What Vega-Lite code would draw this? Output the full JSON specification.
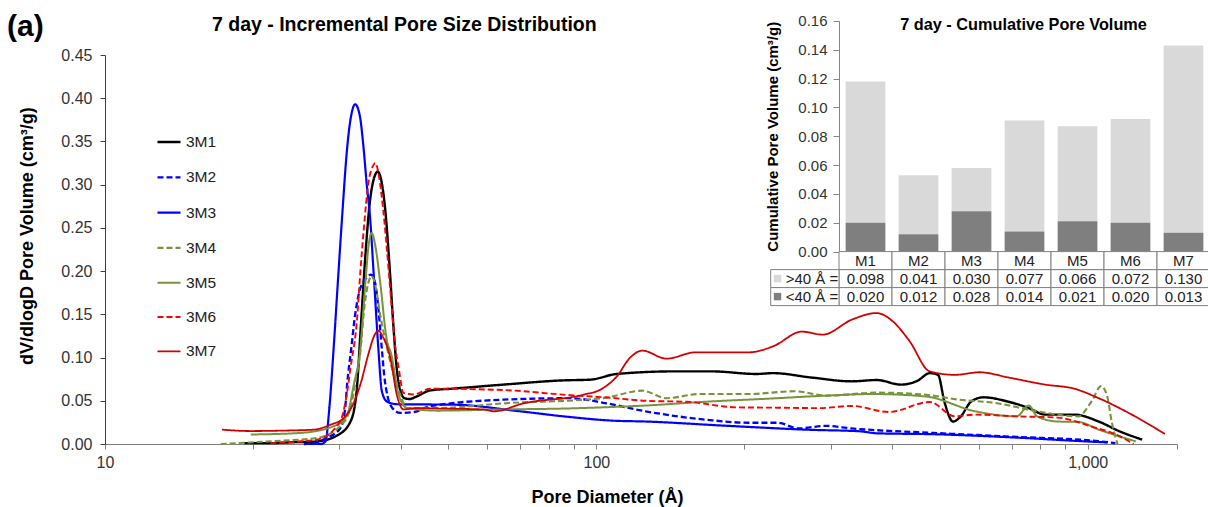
{
  "$schema": "https://vega.github.io/schema/vega-lite/v6.json",
  "background": "white",
  "padding": {"left": 7, "top": 11, "right": 0, "bottom": 4},
  "title": {"text": "(a)", "anchor": "start", "frame": "group", "fontSize": 30, "fontWeight": "bold", "color": "#000000", "dx": -98, "dy": 31.6},
  "config": {
    "font": "Liberation Sans",
    "view": {"stroke": null},
    "axis": {"grid": false},
    "concat": {"spacing": 0}
  },
  "datasets": {
    "pores": [
      {"series": "3M1", "d": 19.2, "v": 0.001}, {"series": "3M1", "d": 21.7, "v": 0.001}, {"series": "3M1", "d": 24.0, "v": 0.002},
      {"series": "3M1", "d": 27.0, "v": 0.003}, {"series": "3M1", "d": 29.7, "v": 0.010}, {"series": "3M1", "d": 31.6, "v": 0.026},
      {"series": "3M1", "d": 32.5, "v": 0.060}, {"series": "3M1", "d": 33.2, "v": 0.14}, {"series": "3M1", "d": 33.9, "v": 0.22},
      {"series": "3M1", "d": 34.6, "v": 0.28}, {"series": "3M1", "d": 35.3, "v": 0.308}, {"series": "3M1", "d": 35.9, "v": 0.315},
      {"series": "3M1", "d": 36.5, "v": 0.305}, {"series": "3M1", "d": 37.2, "v": 0.27}, {"series": "3M1", "d": 37.9, "v": 0.21},
      {"series": "3M1", "d": 38.6, "v": 0.14}, {"series": "3M1", "d": 39.2, "v": 0.09}, {"series": "3M1", "d": 39.9, "v": 0.062},
      {"series": "3M1", "d": 40.7, "v": 0.053}, {"series": "3M1", "d": 41.6, "v": 0.052}, {"series": "3M1", "d": 43.1, "v": 0.055},
      {"series": "3M1", "d": 45.9, "v": 0.062}, {"series": "3M1", "d": 51, "v": 0.064}, {"series": "3M1", "d": 64.7, "v": 0.0687},
      {"series": "3M1", "d": 85.7, "v": 0.0736}, {"series": "3M1", "d": 97.1, "v": 0.0744}, {"series": "3M1", "d": 110, "v": 0.081},
      {"series": "3M1", "d": 144, "v": 0.084}, {"series": "3M1", "d": 172, "v": 0.084}, {"series": "3M1", "d": 212, "v": 0.081},
      {"series": "3M1", "d": 229, "v": 0.082}, {"series": "3M1", "d": 273, "v": 0.077}, {"series": "3M1", "d": 331, "v": 0.0725},
      {"series": "3M1", "d": 372, "v": 0.074}, {"series": "3M1", "d": 417, "v": 0.0687}, {"series": "3M1", "d": 451, "v": 0.0733},
      {"series": "3M1", "d": 477, "v": 0.082}, {"series": "3M1", "d": 496, "v": 0.080}, {"series": "3M1", "d": 511, "v": 0.049},
      {"series": "3M1", "d": 532, "v": 0.026}, {"series": "3M1", "d": 552, "v": 0.032}, {"series": "3M1", "d": 579, "v": 0.049},
      {"series": "3M1", "d": 614, "v": 0.054}, {"series": "3M1", "d": 689, "v": 0.049}, {"series": "3M1", "d": 759, "v": 0.0416},
      {"series": "3M1", "d": 820, "v": 0.034}, {"series": "3M1", "d": 939, "v": 0.034}, {"series": "3M1", "d": 1053, "v": 0.026},
      {"series": "3M1", "d": 1161, "v": 0.0147}, {"series": "3M1", "d": 1291, "v": 0.005},

      {"series": "3M2", "d": 25.4, "v": 0.0}, {"series": "3M2", "d": 27.0, "v": 0.002}, {"series": "3M2", "d": 28.0, "v": 0.006},
      {"series": "3M2", "d": 30.1, "v": 0.018}, {"series": "3M2", "d": 30.8, "v": 0.04}, {"series": "3M2", "d": 31.1, "v": 0.069},
      {"series": "3M2", "d": 31.7, "v": 0.11}, {"series": "3M2", "d": 32.3, "v": 0.15}, {"series": "3M2", "d": 33.0, "v": 0.178},
      {"series": "3M2", "d": 33.8, "v": 0.19}, {"series": "3M2", "d": 34.8, "v": 0.196}, {"series": "3M2", "d": 35.5, "v": 0.185},
      {"series": "3M2", "d": 36.1, "v": 0.15}, {"series": "3M2", "d": 36.6, "v": 0.11}, {"series": "3M2", "d": 37.0, "v": 0.08},
      {"series": "3M2", "d": 37.6, "v": 0.055}, {"series": "3M2", "d": 38.4, "v": 0.042}, {"series": "3M2", "d": 39.9, "v": 0.036},
      {"series": "3M2", "d": 42.5, "v": 0.037}, {"series": "3M2", "d": 45.9, "v": 0.0436}, {"series": "3M2", "d": 64.7, "v": 0.0513},
      {"series": "3M2", "d": 88.4, "v": 0.053}, {"series": "3M2", "d": 104, "v": 0.0474}, {"series": "3M2", "d": 126, "v": 0.0378},
      {"series": "3M2", "d": 168, "v": 0.028}, {"series": "3M2", "d": 204, "v": 0.0246}, {"series": "3M2", "d": 234, "v": 0.0246},
      {"series": "3M2", "d": 258, "v": 0.018}, {"series": "3M2", "d": 293, "v": 0.021}, {"series": "3M2", "d": 331, "v": 0.018},
      {"series": "3M2", "d": 486, "v": 0.0128}, {"series": "3M2", "d": 717, "v": 0.0082}, {"series": "3M2", "d": 1053, "v": 0.0032},
      {"series": "3M2", "d": 1139, "v": 0.001},

      {"series": "3M3", "d": 25.4, "v": 0.0}, {"series": "3M3", "d": 27.5, "v": 0.0}, {"series": "3M3", "d": 28.1, "v": 0.003},
      {"series": "3M3", "d": 28.6, "v": 0.04}, {"series": "3M3", "d": 29.2, "v": 0.111}, {"series": "3M3", "d": 29.8, "v": 0.19},
      {"series": "3M3", "d": 30.4, "v": 0.265}, {"series": "3M3", "d": 31.1, "v": 0.342}, {"series": "3M3", "d": 31.7, "v": 0.38},
      {"series": "3M3", "d": 32.3, "v": 0.393}, {"series": "3M3", "d": 33.0, "v": 0.38}, {"series": "3M3", "d": 33.6, "v": 0.342},
      {"series": "3M3", "d": 34.1, "v": 0.30}, {"series": "3M3", "d": 34.6, "v": 0.265}, {"series": "3M3", "d": 35.3, "v": 0.188},
      {"series": "3M3", "d": 36.0, "v": 0.111}, {"series": "3M3", "d": 36.6, "v": 0.061}, {"series": "3M3", "d": 37.5, "v": 0.049},
      {"series": "3M3", "d": 39.3, "v": 0.046}, {"series": "3M3", "d": 51.2, "v": 0.0455}, {"series": "3M3", "d": 70, "v": 0.0378},
      {"series": "3M3", "d": 85.7, "v": 0.032}, {"series": "3M3", "d": 108, "v": 0.027}, {"series": "3M3", "d": 126, "v": 0.026},
      {"series": "3M3", "d": 185, "v": 0.021}, {"series": "3M3", "d": 273, "v": 0.0164}, {"series": "3M3", "d": 344, "v": 0.0147},
      {"series": "3M3", "d": 372, "v": 0.0124}, {"series": "3M3", "d": 486, "v": 0.0113}, {"series": "3M3", "d": 717, "v": 0.0074},
      {"series": "3M3", "d": 977, "v": 0.0032}, {"series": "3M3", "d": 1096, "v": 0.0018},

      {"series": "3M4", "d": 17.2, "v": 0.0}, {"series": "3M4", "d": 20, "v": 0.002}, {"series": "3M4", "d": 23.1, "v": 0.004},
      {"series": "3M4", "d": 27.0, "v": 0.007}, {"series": "3M4", "d": 30.1, "v": 0.0205}, {"series": "3M4", "d": 31.6, "v": 0.042},
      {"series": "3M4", "d": 32.4, "v": 0.075}, {"series": "3M4", "d": 33.1, "v": 0.107}, {"series": "3M4", "d": 33.6, "v": 0.15},
      {"series": "3M4", "d": 34.3, "v": 0.185}, {"series": "3M4", "d": 34.9, "v": 0.194}, {"series": "3M4", "d": 35.6, "v": 0.18},
      {"series": "3M4", "d": 36.3, "v": 0.15}, {"series": "3M4", "d": 37.5, "v": 0.111}, {"series": "3M4", "d": 38.7, "v": 0.08},
      {"series": "3M4", "d": 39.9, "v": 0.057}, {"series": "3M4", "d": 41.2, "v": 0.0416}, {"series": "3M4", "d": 47.4, "v": 0.0416},
      {"series": "3M4", "d": 64.7, "v": 0.047}, {"series": "3M4", "d": 103, "v": 0.053}, {"series": "3M4", "d": 124, "v": 0.0617},
      {"series": "3M4", "d": 139, "v": 0.053}, {"series": "3M4", "d": 162, "v": 0.0578}, {"series": "3M4", "d": 204, "v": 0.0578},
      {"series": "3M4", "d": 253, "v": 0.061}, {"series": "3M4", "d": 295, "v": 0.056}, {"series": "3M4", "d": 372, "v": 0.0594},
      {"series": "3M4", "d": 468, "v": 0.057}, {"series": "3M4", "d": 547, "v": 0.0513}, {"series": "3M4", "d": 650, "v": 0.0474},
      {"series": "3M4", "d": 789, "v": 0.0378}, {"series": "3M4", "d": 957, "v": 0.032}, {"series": "3M4", "d": 1020, "v": 0.05},
      {"series": "3M4", "d": 1065, "v": 0.067}, {"series": "3M4", "d": 1095, "v": 0.056}, {"series": "3M4", "d": 1120, "v": 0.025},
      {"series": "3M4", "d": 1150, "v": 0.0},

      {"series": "3M5", "d": 19.8, "v": 0.011}, {"series": "3M5", "d": 25.0, "v": 0.0128}, {"series": "3M5", "d": 29.7, "v": 0.0224},
      {"series": "3M5", "d": 31.1, "v": 0.034}, {"series": "3M5", "d": 32.1, "v": 0.069}, {"series": "3M5", "d": 33.1, "v": 0.111},
      {"series": "3M5", "d": 33.9, "v": 0.188}, {"series": "3M5", "d": 34.4, "v": 0.23}, {"series": "3M5", "d": 34.9, "v": 0.244},
      {"series": "3M5", "d": 35.6, "v": 0.225}, {"series": "3M5", "d": 36.3, "v": 0.188}, {"series": "3M5", "d": 37.5, "v": 0.119},
      {"series": "3M5", "d": 38.2, "v": 0.105}, {"series": "3M5", "d": 39.6, "v": 0.057}, {"series": "3M5", "d": 41.2, "v": 0.0416},
      {"series": "3M5", "d": 47.4, "v": 0.0386}, {"series": "3M5", "d": 64.7, "v": 0.040}, {"series": "3M5", "d": 85.7, "v": 0.041},
      {"series": "3M5", "d": 103, "v": 0.0424}, {"series": "3M5", "d": 126, "v": 0.0445}, {"series": "3M5", "d": 168, "v": 0.049},
      {"series": "3M5", "d": 225, "v": 0.0525}, {"series": "3M5", "d": 295, "v": 0.056}, {"series": "3M5", "d": 365, "v": 0.0578},
      {"series": "3M5", "d": 468, "v": 0.055}, {"series": "3M5", "d": 591, "v": 0.0378}, {"series": "3M5", "d": 717, "v": 0.032},
      {"series": "3M5", "d": 759, "v": 0.0445}, {"series": "3M5", "d": 789, "v": 0.032}, {"series": "3M5", "d": 869, "v": 0.026},
      {"series": "3M5", "d": 957, "v": 0.0255}, {"series": "3M5", "d": 1053, "v": 0.0167}, {"series": "3M5", "d": 1254, "v": 0.003},

      {"series": "3M6", "d": 21.7, "v": 0.001}, {"series": "3M6", "d": 27.0, "v": 0.005}, {"series": "3M6", "d": 30.1, "v": 0.026},
      {"series": "3M6", "d": 31.0, "v": 0.055}, {"series": "3M6", "d": 31.6, "v": 0.088}, {"series": "3M6", "d": 32.6, "v": 0.146},
      {"series": "3M6", "d": 33.1, "v": 0.2}, {"series": "3M6", "d": 33.6, "v": 0.246}, {"series": "3M6", "d": 34.4, "v": 0.304},
      {"series": "3M6", "d": 35.0, "v": 0.32}, {"series": "3M6", "d": 35.5, "v": 0.325}, {"series": "3M6", "d": 36.1, "v": 0.31},
      {"series": "3M6", "d": 36.8, "v": 0.273}, {"series": "3M6", "d": 37.95, "v": 0.188}, {"series": "3M6", "d": 38.4, "v": 0.153},
      {"series": "3M6", "d": 39.0, "v": 0.111}, {"series": "3M6", "d": 39.6, "v": 0.088}, {"series": "3M6", "d": 40.5, "v": 0.059},
      {"series": "3M6", "d": 42.5, "v": 0.0573}, {"series": "3M6", "d": 45.9, "v": 0.064}, {"series": "3M6", "d": 64.7, "v": 0.0624},
      {"series": "3M6", "d": 88.4, "v": 0.0565}, {"series": "3M6", "d": 104, "v": 0.054}, {"series": "3M6", "d": 126, "v": 0.050},
      {"series": "3M6", "d": 153, "v": 0.0488}, {"series": "3M6", "d": 193, "v": 0.0424}, {"series": "3M6", "d": 234, "v": 0.042},
      {"series": "3M6", "d": 284, "v": 0.0415}, {"series": "3M6", "d": 331, "v": 0.044}, {"series": "3M6", "d": 394, "v": 0.037},
      {"series": "3M6", "d": 477, "v": 0.0486}, {"series": "3M6", "d": 537, "v": 0.032}, {"series": "3M6", "d": 591, "v": 0.034},
      {"series": "3M6", "d": 717, "v": 0.032}, {"series": "3M6", "d": 869, "v": 0.0305}, {"series": "3M6", "d": 1014, "v": 0.0205},
      {"series": "3M6", "d": 1161, "v": 0.009}, {"series": "3M6", "d": 1240, "v": 0.0},

      {"series": "3M7", "d": 17.3, "v": 0.0166}, {"series": "3M7", "d": 19.8, "v": 0.015}, {"series": "3M7", "d": 23.1, "v": 0.0155},
      {"series": "3M7", "d": 26.6, "v": 0.0166}, {"series": "3M7", "d": 28.8, "v": 0.0224}, {"series": "3M7", "d": 30.6, "v": 0.030},
      {"series": "3M7", "d": 32.1, "v": 0.048}, {"series": "3M7", "d": 33.1, "v": 0.069}, {"series": "3M7", "d": 34.4, "v": 0.105},
      {"series": "3M7", "d": 35.3, "v": 0.125}, {"series": "3M7", "d": 36.0, "v": 0.131}, {"series": "3M7", "d": 36.7, "v": 0.125},
      {"series": "3M7", "d": 38.1, "v": 0.099}, {"series": "3M7", "d": 39.3, "v": 0.056}, {"series": "3M7", "d": 40.5, "v": 0.040},
      {"series": "3M7", "d": 43.0, "v": 0.0416}, {"series": "3M7", "d": 48, "v": 0.041}, {"series": "3M7", "d": 58.9, "v": 0.040},
      {"series": "3M7", "d": 61.8, "v": 0.0378}, {"series": "3M7", "d": 71.1, "v": 0.047}, {"series": "3M7", "d": 94, "v": 0.057},
      {"series": "3M7", "d": 102, "v": 0.063}, {"series": "3M7", "d": 110, "v": 0.078}, {"series": "3M7", "d": 117, "v": 0.0995},
      {"series": "3M7", "d": 124, "v": 0.108}, {"series": "3M7", "d": 139, "v": 0.0987}, {"series": "3M7", "d": 159, "v": 0.106},
      {"series": "3M7", "d": 204, "v": 0.106}, {"series": "3M7", "d": 229, "v": 0.113}, {"series": "3M7", "d": 262, "v": 0.130},
      {"series": "3M7", "d": 289, "v": 0.1265}, {"series": "3M7", "d": 331, "v": 0.1438}, {"series": "3M7", "d": 372, "v": 0.1515},
      {"series": "3M7", "d": 401, "v": 0.142}, {"series": "3M7", "d": 434, "v": 0.119}, {"series": "3M7", "d": 477, "v": 0.084},
      {"series": "3M7", "d": 537, "v": 0.080}, {"series": "3M7", "d": 603, "v": 0.083}, {"series": "3M7", "d": 689, "v": 0.077},
      {"series": "3M7", "d": 820, "v": 0.0687}, {"series": "3M7", "d": 939, "v": 0.064}, {"series": "3M7", "d": 1053, "v": 0.053},
      {"series": "3M7", "d": 1230, "v": 0.034}, {"series": "3M7", "d": 1436, "v": 0.0116}
    ],
    "cumulative": [
      {"sample": "M1", "part": ">40 Å", "volume": 0.098}, {"sample": "M1", "part": "<40 Å", "volume": 0.020},
      {"sample": "M2", "part": ">40 Å", "volume": 0.041}, {"sample": "M2", "part": "<40 Å", "volume": 0.012},
      {"sample": "M3", "part": ">40 Å", "volume": 0.030}, {"sample": "M3", "part": "<40 Å", "volume": 0.028},
      {"sample": "M4", "part": ">40 Å", "volume": 0.077}, {"sample": "M4", "part": "<40 Å", "volume": 0.014},
      {"sample": "M5", "part": ">40 Å", "volume": 0.066}, {"sample": "M5", "part": "<40 Å", "volume": 0.021},
      {"sample": "M6", "part": ">40 Å", "volume": 0.072}, {"sample": "M6", "part": "<40 Å", "volume": 0.020},
      {"sample": "M7", "part": ">40 Å", "volume": 0.130}, {"sample": "M7", "part": "<40 Å", "volume": 0.013}
    ]
  },
  "vconcat": [
    {
      "width": 1072,
      "height": 389,
      "title": {"text": "7 day - Incremental Pore Size Distribution", "anchor": "start", "frame": "group", "dx": 107, "dy": 25.3, "fontSize": 19.5, "fontWeight": "bold", "color": "#000000"},
      "layer": [
        {
          "data": {"name": "pores"},
          "mark": {"type": "line", "interpolate": "monotone"},
          "encoding": {
            "x": {
              "field": "d", "type": "quantitative",
              "scale": {"type": "log", "domain": [10, 1520], "nice": false},
              "axis": {
                "values": [10, 20, 30, 40, 50, 60, 70, 80, 90, 100, 200, 300, 400, 500, 600, 700, 800, 900, 1000, 1520],
                "labelExpr": "datum.value === 10 ? '10' : datum.value === 100 ? '100' : datum.value === 1000 ? '1,000' : ''",
                "labelFlush": false, "labelOverlap": false,
                "labelFontSize": 16, "labelColor": "#333333", "labelPadding": 5,
                "tickSize": 5, "tickColor": "#808080", "domainColor": "#808080",
                "title": "Pore Diameter (Å)", "titleFontSize": 18, "titleFontWeight": "bold", "titleColor": "#000000",
                "titleX": 502, "titlePadding": 18
              }
            },
            "y": {
              "field": "v", "type": "quantitative",
              "scale": {"domain": [0, 0.45], "nice": false},
              "axis": {
                "values": [0, 0.05, 0.1, 0.15, 0.2, 0.25, 0.3, 0.35, 0.4, 0.45],
                "format": ".2f", "labelFontSize": 16, "labelColor": "#333333", "labelPadding": 8,
                "tickSize": 5, "tickColor": "#404040", "domainColor": "#404040",
                "title": "dV/dlogD Pore Volume (cm³/g)", "titleFontSize": 18, "titleFontWeight": "bold", "titleColor": "#000000",
                "titleX": -78, "titleY": 180.6, "titleBaseline": "middle"
              }
            },
            "color": {
              "field": "series", "type": "nominal",
              "scale": {"domain": ["3M1", "3M2", "3M3", "3M4", "3M5", "3M6", "3M7"], "range": ["#000000", "#0000FF", "#0000FF", "#77933C", "#77933C", "#FF0000", "#D00000"]},
              "legend": {"orient": "none", "legendX": 51, "legendY": 74, "title": null, "symbolType": "stroke", "symbolSize": 529, "symbolStrokeWidth": 2, "labelFontSize": 15.5, "labelColor": "#222222", "labelOffset": 4, "rowPadding": 13.3, "padding": 0}
            },
            "strokeDash": {
              "field": "series", "type": "nominal",
              "scale": {"domain": ["3M1", "3M2", "3M3", "3M4", "3M5", "3M6", "3M7"], "range": [[1, 0], [6, 3], [1, 0], [6, 3], [1, 0], [6, 3], [1, 0]]},
              "legend": {"orient": "none", "legendX": 51, "legendY": 74, "title": null, "symbolType": "stroke", "symbolSize": 529, "symbolStrokeWidth": 2, "labelFontSize": 15.5, "labelColor": "#222222", "labelOffset": 4, "rowPadding": 13.3, "padding": 0}
            },
            "strokeWidth": {
              "field": "series", "type": "nominal",
              "scale": {"domain": ["3M1", "3M2", "3M3", "3M4", "3M5", "3M6", "3M7"], "range": [2.4, 1.8, 1.8, 1.8, 1.8, 1.8, 1.8]},
              "legend": null
            }
          }
        },
        {
          "data": {"name": "cumulative"},
          "layer": [
            {
              "mark": {"type": "bar", "width": {"band": 0.75}},
              "encoding": {
                "x": {
                  "field": "sample", "type": "nominal",
                  "scale": {"domain": ["M1", "M2", "M3", "M4", "M5", "M6", "M7"], "range": [734, 1105], "paddingInner": 0, "paddingOuter": 0},
                  "axis": {"orient": "top", "domain": false, "ticks": false, "labels": false,
                    "title": "7 day - Cumulative Pore Volume", "titleFontSize": 16.3, "titleFontWeight": "bold", "titleColor": "#000000",
                    "titleX": 918, "titleY": -26, "titleBaseline": "alphabetic"}
                },
                "y": {
                  "field": "volume", "type": "quantitative", "stack": "zero",
                  "scale": {"domain": [0, 0.16], "range": [196.6, -34.1], "nice": false},
                  "axis": {"orient": "left", "offset": -734,
                    "values": [0, 0.02, 0.04, 0.06, 0.08, 0.1, 0.12, 0.14, 0.16], "format": ".2f",
                    "labelFontSize": 15, "labelColor": "#333333", "labelPadding": 6,
                    "tickSize": 6, "tickColor": "#868686", "domainColor": "#868686",
                    "title": "Cumulative Pore Volume (cm³/g)", "titleFontSize": 15, "titleFontWeight": "bold", "titleColor": "#000000", "titlePadding": 17}
                },
                "color": {"field": "part", "type": "nominal", "scale": {"domain": [">40 Å", "<40 Å"], "range": ["#D9D9D9", "#7F7F7F"]}, "legend": null},
                "order": {"field": "part", "sort": "ascending"}
              }
            },
            {
              "layer": [
                {
                  "mark": {"type": "rect", "fill": "white", "stroke": "#808080", "strokeWidth": 1},
                  "encoding": {
                    "x": {"field": "sample", "type": "nominal", "axis": null},
                    "y": {"field": "part", "type": "nominal", "scale": {"domain": ["name", ">40 Å", "<40 Å"], "range": [196.6, 250.6], "paddingInner": 0, "paddingOuter": 0}, "axis": null}
                  }
                },
                {
                  "mark": {"type": "text", "fontSize": 15, "color": "#222222"},
                  "encoding": {
                    "x": {"field": "sample", "type": "nominal", "axis": null},
                    "y": {"field": "part", "type": "nominal", "axis": null},
                    "text": {"field": "volume", "type": "quantitative", "format": ".3f"}
                  }
                },
                {
                  "transform": [{"filter": "datum.part === '>40 Å'"}],
                  "mark": {"type": "rect", "fill": "white", "stroke": "#808080", "strokeWidth": 1},
                  "encoding": {
                    "x": {"field": "sample", "type": "nominal", "axis": null},
                    "y": {"datum": "name", "type": "nominal", "axis": null}
                  }
                },
                {
                  "transform": [{"filter": "datum.part === '>40 Å'"}],
                  "mark": {"type": "text", "fontSize": 15, "color": "#222222"},
                  "encoding": {
                    "x": {"field": "sample", "type": "nominal", "axis": null},
                    "y": {"datum": "name", "type": "nominal", "axis": null},
                    "text": {"field": "sample", "type": "nominal"}
                  }
                }
              ]
            }
          ],
          "resolve": {"scale": {"y": "independent"}, "axis": {"x": "independent"}}
        },
        {
          "data": {"name": "cumulative"},
          "transform": [{"filter": "datum.sample === 'M1'"}, {"calculate": "datum.part + ' ='", "as": "key_label"}],
          "layer": [
            {
              "mark": {"type": "rect", "fill": "white", "stroke": "#808080", "strokeWidth": 1},
              "encoding": {
                "x": {"datum": "key", "type": "nominal", "scale": {"domain": ["key"], "range": [665.7, 734], "paddingInner": 0, "paddingOuter": 0}, "axis": null},
                "y": {"field": "part", "type": "nominal", "scale": {"domain": ["name", ">40 Å", "<40 Å"], "range": [196.6, 250.6], "paddingInner": 0, "paddingOuter": 0}, "axis": null}
              }
            },
            {
              "mark": {"type": "point", "shape": "square", "filled": true, "size": 55, "opacity": 1},
              "encoding": {
                "x": {"datum": "key", "type": "nominal", "bandPosition": 0.1, "axis": null},
                "y": {"field": "part", "type": "nominal", "axis": null},
                "color": {"field": "part", "type": "nominal", "scale": {"domain": [">40 Å", "<40 Å"], "range": ["#D9D9D9", "#7F7F7F"]}, "legend": null}
              }
            },
            {
              "mark": {"type": "text", "align": "left", "fontSize": 15, "color": "#222222"},
              "encoding": {
                "x": {"datum": "key", "type": "nominal", "bandPosition": 0.22, "axis": null},
                "y": {"field": "part", "type": "nominal", "axis": null},
                "text": {"field": "key_label", "type": "nominal"}
              }
            }
          ]
        }
      ],
      "resolve": {"scale": {"x": "independent", "y": "independent", "color": "independent", "strokeDash": "independent", "strokeWidth": "independent"}}
    }
  ]
}
